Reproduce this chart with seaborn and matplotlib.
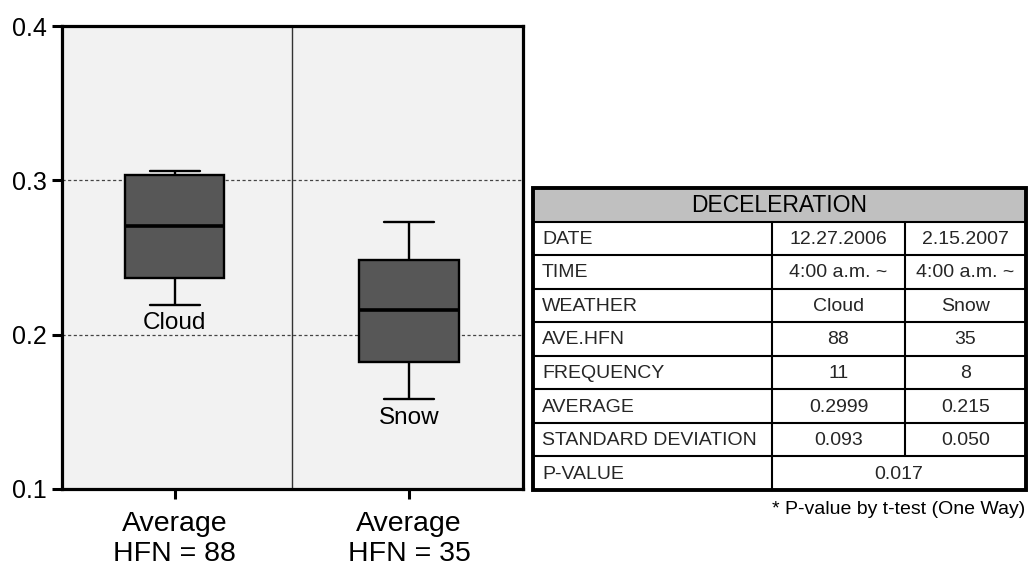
import matplotlib
matplotlib.use("Agg")
import matplotlib.pyplot as plt
from matplotlib.patches import Rectangle
import numpy as np
import pandas as pd
import seaborn as sns

# ---- data -------------------------------------------------------------
weather = ["Cloud", "Snow"]
# five-number summaries: lower whisker, Q1, median, Q3, upper whisker
cloud_summary = [0.2195, 0.2370, 0.2703, 0.3037, 0.3061]
snow_summary = [0.1582, 0.1823, 0.2158, 0.2487, 0.2729]
tick_labels = ["Average\nHFN = 88", "Average\nHFN = 35"]
y_ticks = [0.1, 0.2, 0.3, 0.4]

table_title = "DECELERATION"
row_labels = ["DATE", "TIME", "WEATHER", "AVE.HFN", "FREQUENCY",
              "AVERAGE", "STANDARD DEVIATION", "P-VALUE"]
cloud_column = ["12.27.2006", "4:00 a.m. ~", "Cloud", "88", "11", "0.2999", "0.093"]
snow_column = ["2.15.2007", "4:00 a.m. ~", "Snow", "35", "8", "0.215", "0.050"]
p_value = "0.017"
footnote = "* P-value by t-test (One Way)"

df = pd.DataFrame({
    "weather": ["Cloud"] * len(cloud_summary) + ["Snow"] * len(snow_summary),
    "decel": cloud_summary + snow_summary,
})

# ---- style ------------------------------------------------------------
sns.set_style("white")
plt.rcParams["font.family"] = ["Liberation Sans", "DejaVu Sans"]

W, H = 1028, 566
fig = plt.figure(figsize=(W / 100, H / 100), dpi=100)

# box plot panel (pixel box: x 62..523, y 26..489)
ax = fig.add_axes([62 / W, 1 - 489 / H, (523 - 62) / W, (489 - 26) / H])
ax.set_facecolor("#f2f2f2")

sns.boxplot(data=df, x="weather", y="decel", order=weather, ax=ax,
            width=0.425, color="#575757", saturation=1, linecolor="black",
            linewidth=1.7, whis=1.5,
            medianprops={"linewidth": 2.6, "color": "black"})

ax.set_xlim(-0.48, 1.485)
ax.set_ylim(0.1, 0.4)
ax.set_yticks(y_ticks)
ax.set_yticklabels([f"{t:.1f}" for t in y_ticks], fontsize=18)
ax.set_xticks([0, 1])
ax.set_xticklabels(tick_labels, fontsize=20.5, linespacing=1.2)
ax.set_xlabel("")
ax.set_ylabel("")
ax.tick_params(axis="both", direction="out", length=7, width=2.2,
               color="black", labelcolor="black", bottom=True, left=True)
ax.tick_params(axis="y", pad=4)
ax.tick_params(axis="x", pad=8.5)

for side in ["left", "right", "top", "bottom"]:
    ax.spines[side].set_visible(True)
    ax.spines[side].set_color("black")
    ax.spines[side].set_linewidth(2.3)

ax.set_axisbelow(True)
for yv in [0.2, 0.3]:
    ax.axhline(yv, color="#444444", lw=0.9, ls=(0, (2.5, 2)), zorder=0.5)
ax.axvline(0.5, color="#333333", lw=1.0, zorder=0.5)

# weather names beneath each lower whisker
for i, (name, summ) in enumerate(zip(weather, [cloud_summary, snow_summary])):
    ax.annotate(name, xy=(i, summ[0]), xytext=(0, -5.5),
                textcoords="offset points", ha="center", va="top",
                fontsize=17.5, color="black")

# ---- summary table ------------------------------------------------------
tab = fig.add_axes([0, 0, 1, 1], zorder=-1)
tab.set_xlim(0, W)
tab.set_ylim(H, 0)
tab.axis("off")

left, right, top, bottom = 533, 1026, 188, 490
col1, col2 = 772, 905
n_rows = len(row_labels) + 1
rh = (bottom - top) / n_rows

tab.add_patch(Rectangle((left, top), right - left, rh, facecolor="#c0c0c0",
                        edgecolor="none"))
tab.text((left + right) / 2, top + rh / 2 + 1, table_title, ha="center",
         va="center", fontsize=16.5, color="black")

for r in range(1, n_rows):
    y = top + r * rh
    tab.plot([left, right], [y, y], color="black", lw=1.5)
tab.plot([col1, col1], [top + rh, bottom], color="black", lw=1.5)
tab.plot([col2, col2], [top + rh, bottom - rh], color="black", lw=1.5)
tab.add_patch(Rectangle((left, top), right - left, bottom - top,
                        facecolor="none", edgecolor="black", lw=2.8))

for r, label in enumerate(row_labels):
    yc = top + (r + 1.5) * rh + 1
    tab.text(left + 9, yc, label, ha="left", va="center", fontsize=14)
    if r < len(cloud_column):
        tab.text((col1 + col2) / 2, yc, cloud_column[r], ha="center",
                 va="center", fontsize=14)
        tab.text((col2 + right) / 2, yc, snow_column[r], ha="center",
                 va="center", fontsize=14)
    else:
        tab.text((col1 + right) / 2, yc, p_value, ha="center",
                 va="center", fontsize=14)

fig.text(1025 / W, 1 - 510 / H, footnote, ha="right", va="center",
         fontsize=14, color="black")

fig.savefig("out.png", dpi=100)
